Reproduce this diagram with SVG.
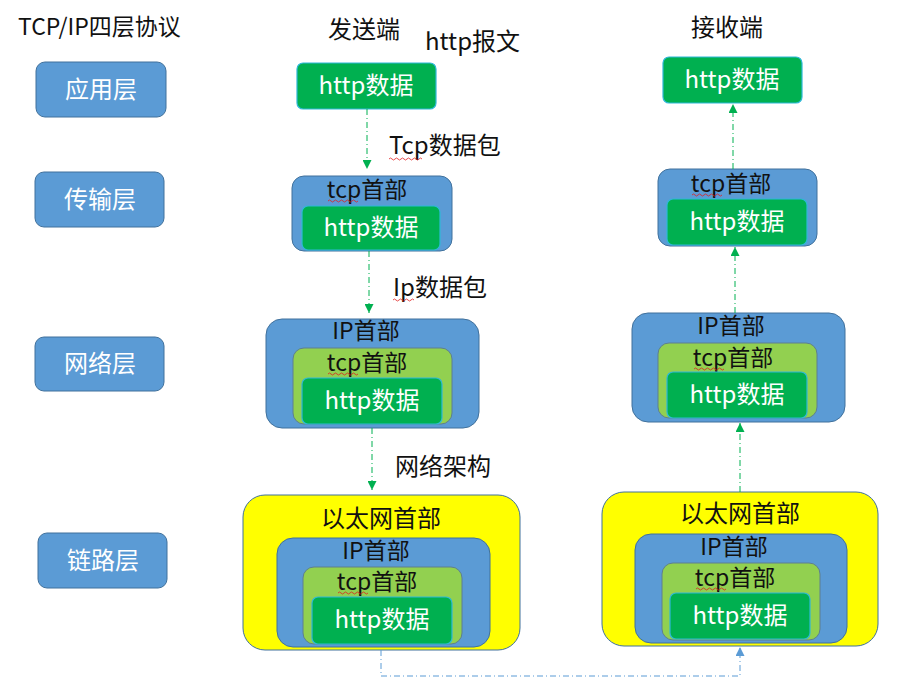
<svg xmlns="http://www.w3.org/2000/svg" width="915" height="694" viewBox="0 0 915 694">
<style>
text{font-family:"Noto Sans CJK SC","Liberation Sans",sans-serif;font-size:24px}
.w{fill:#fff;text-anchor:middle}
.k{fill:#111;text-anchor:middle}
.h{fill:#111;text-anchor:middle;font-size:23px}
.lbl{fill:#111}
.layer{fill:#5B9BD5;stroke:#41719C;stroke-width:1}
.blue{fill:#5B9BD5;stroke:#41719C;stroke-width:1}
.lime{fill:#92D050;stroke:#5F7F8F;stroke-width:1}
.green{fill:#00B050;stroke:#2FB8D8;stroke-width:1.2}
.yellow{fill:#FFFF00;stroke:#41719C;stroke-width:1}
.ga{fill:none;stroke:#00B050;stroke-width:1;stroke-dasharray:6 3 1 3}
.ba{fill:none;stroke:#5B9BD5;stroke-width:1;stroke-dasharray:6 3 1 3}
.sq{fill:none;stroke:#E02020;stroke-width:0.8}
</style>
<defs>
<marker id="gh" viewBox="0 0 10 10" refX="10" refY="5" markerWidth="9" markerHeight="9" markerUnits="userSpaceOnUse" orient="auto"><path d="M0,0 L10,5 L0,10 z" fill="#00B050"/></marker>
<marker id="bh" viewBox="0 0 10 10" refX="10" refY="5" markerWidth="9" markerHeight="9" markerUnits="userSpaceOnUse" orient="auto"><path d="M0,0 L10,5 L0,10 z" fill="#5B9BD5"/></marker>
</defs>
<rect width="915" height="694" fill="#fff"/>

<text x="18" y="35" class="lbl" style="font-size:23px">TCP/IP四层协议</text>
<text x="364" y="38" class="k">发送端</text>
<text x="425" y="50" class="lbl">http报文</text>
<text x="727" y="36" class="k">接收端</text>

<g id="layer-app"><rect class="layer" x="36" y="62" width="130" height="55" rx="9"/><text x="101" y="98" class="w">应用层</text></g>
<g id="layer-transport"><rect class="layer" x="35" y="172" width="129" height="55" rx="9"/><text x="100" y="208" class="w">传输层</text></g>
<g id="layer-network"><rect class="layer" x="35" y="337" width="129" height="54" rx="9"/><text x="100" y="372" class="w">网络层</text></g>
<g id="layer-link"><rect class="layer" x="38" y="533" width="129" height="55" rx="9"/><text x="103" y="569" class="w">链路层</text></g>

<g id="send-app"><rect class="green" x="297" y="63" width="139" height="46" rx="6"/><text x="366" y="94" class="w">http数据</text></g>

<g id="send-transport">
<rect class="blue" x="292" y="176" width="160" height="75" rx="12"/>
<text x="367" y="198" class="h">tcp首部</text>
<rect class="green" x="302" y="206" width="138" height="44" rx="6"/>
<text x="371" y="236" class="w">http数据</text>
</g>

<g id="send-network">
<rect class="blue" x="266" y="319" width="213" height="109" rx="16"/>
<text x="366" y="339" class="h">IP首部</text>
<rect class="lime" x="293" y="348" width="159" height="76" rx="11"/>
<text x="367" y="371" class="h">tcp首部</text>
<rect class="green" x="302" y="378" width="140" height="46" rx="6"/>
<text x="372" y="409" class="w">http数据</text>
</g>

<g id="send-link">
<rect class="yellow" x="243" y="495" width="277" height="155" rx="22"/>
<text x="381" y="527" class="k">以太网首部</text>
<rect class="blue" x="277" y="538" width="213" height="109" rx="16"/>
<text x="376" y="559" class="h">IP首部</text>
<rect class="lime" x="303" y="567" width="159" height="77" rx="11"/>
<text x="377" y="590" class="h">tcp首部</text>
<rect class="green" x="312" y="597" width="140" height="47" rx="6"/>
<text x="382" y="628" class="w">http数据</text>
</g>

<g id="recv-app"><rect class="green" x="663" y="57" width="139" height="46" rx="6"/><text x="732" y="88" class="w">http数据</text></g>

<g id="recv-transport">
<rect class="blue" x="658" y="169" width="159" height="77" rx="12"/>
<text x="731" y="192" class="h">tcp首部</text>
<rect class="green" x="667" y="199" width="140" height="46" rx="6"/>
<text x="737" y="230" class="w">http数据</text>
</g>

<g id="recv-network">
<rect class="blue" x="632" y="313" width="213" height="109" rx="16"/>
<text x="731" y="334" class="h">IP首部</text>
<rect class="lime" x="658" y="343" width="159" height="75" rx="11"/>
<text x="733" y="366" class="h">tcp首部</text>
<rect class="green" x="667" y="372" width="140" height="46" rx="6"/>
<text x="737" y="403" class="w">http数据</text>
</g>

<g id="recv-link">
<rect class="yellow" x="602" y="492" width="276" height="154" rx="22"/>
<text x="740" y="522" class="k">以太网首部</text>
<rect class="blue" x="635" y="534" width="212" height="109" rx="16"/>
<text x="734" y="555" class="h">IP首部</text>
<rect class="lime" x="662" y="563" width="158" height="77" rx="11"/>
<text x="735" y="586" class="h">tcp首部</text>
<rect class="green" x="670" y="593" width="140" height="46" rx="6"/>
<text x="740" y="624" class="w">http数据</text>
</g>

<g id="connectors">
<path class="ga" d="M367,109 V169" marker-end="url(#gh)"/>
<path class="ga" d="M369,251 V313" marker-end="url(#gh)"/>
<path class="ga" d="M372,428 V490" marker-end="url(#gh)"/>
<path class="ga" d="M733,169 V104" marker-end="url(#gh)"/>
<path class="ga" d="M735,313 V247" marker-end="url(#gh)"/>
<path class="ga" d="M740,492 V423" marker-end="url(#gh)"/>
<path class="ba" d="M381,650 V676 H740 V647" marker-end="url(#bh)"/>
</g>

<text x="389" y="154" class="lbl">Tcp数据包</text>
<text x="393" y="296" class="lbl">Ip数据包</text>
<text x="395" y="475" class="lbl">网络架构</text>

<g id="spellmarks">
<path class="sq" d="M389,159 q1.5,-2 3,0 t3,0 t3,0 t3,0 t3,0 t3,0 t3,0 t3,0 t3,0 t3,0 t3,0"/>
<path class="sq" d="M393,300 q1.5,-2 3,0 t3,0 t3,0 t3,0 t3,0 t3,0 t3,0"/>
<path class="sq" d="M328,201 q1.5,-2 3,0 t3,0 t3,0 t3,0 t3,0 t3,0 t3,0 t3,0 t3,0 t3,0"/>
<path class="sq" d="M328,374 q1.5,-2 3,0 t3,0 t3,0 t3,0 t3,0 t3,0 t3,0 t3,0 t3,0 t3,0"/>
<path class="sq" d="M338,593 q1.5,-2 3,0 t3,0 t3,0 t3,0 t3,0 t3,0 t3,0 t3,0 t3,0 t3,0"/>
<path class="sq" d="M692,195 q1.5,-2 3,0 t3,0 t3,0 t3,0 t3,0 t3,0 t3,0 t3,0 t3,0 t3,0"/>
<path class="sq" d="M694,369 q1.5,-2 3,0 t3,0 t3,0 t3,0 t3,0 t3,0 t3,0 t3,0 t3,0 t3,0"/>
<path class="sq" d="M696,589 q1.5,-2 3,0 t3,0 t3,0 t3,0 t3,0 t3,0 t3,0 t3,0 t3,0 t3,0"/>
</g>
</svg>
